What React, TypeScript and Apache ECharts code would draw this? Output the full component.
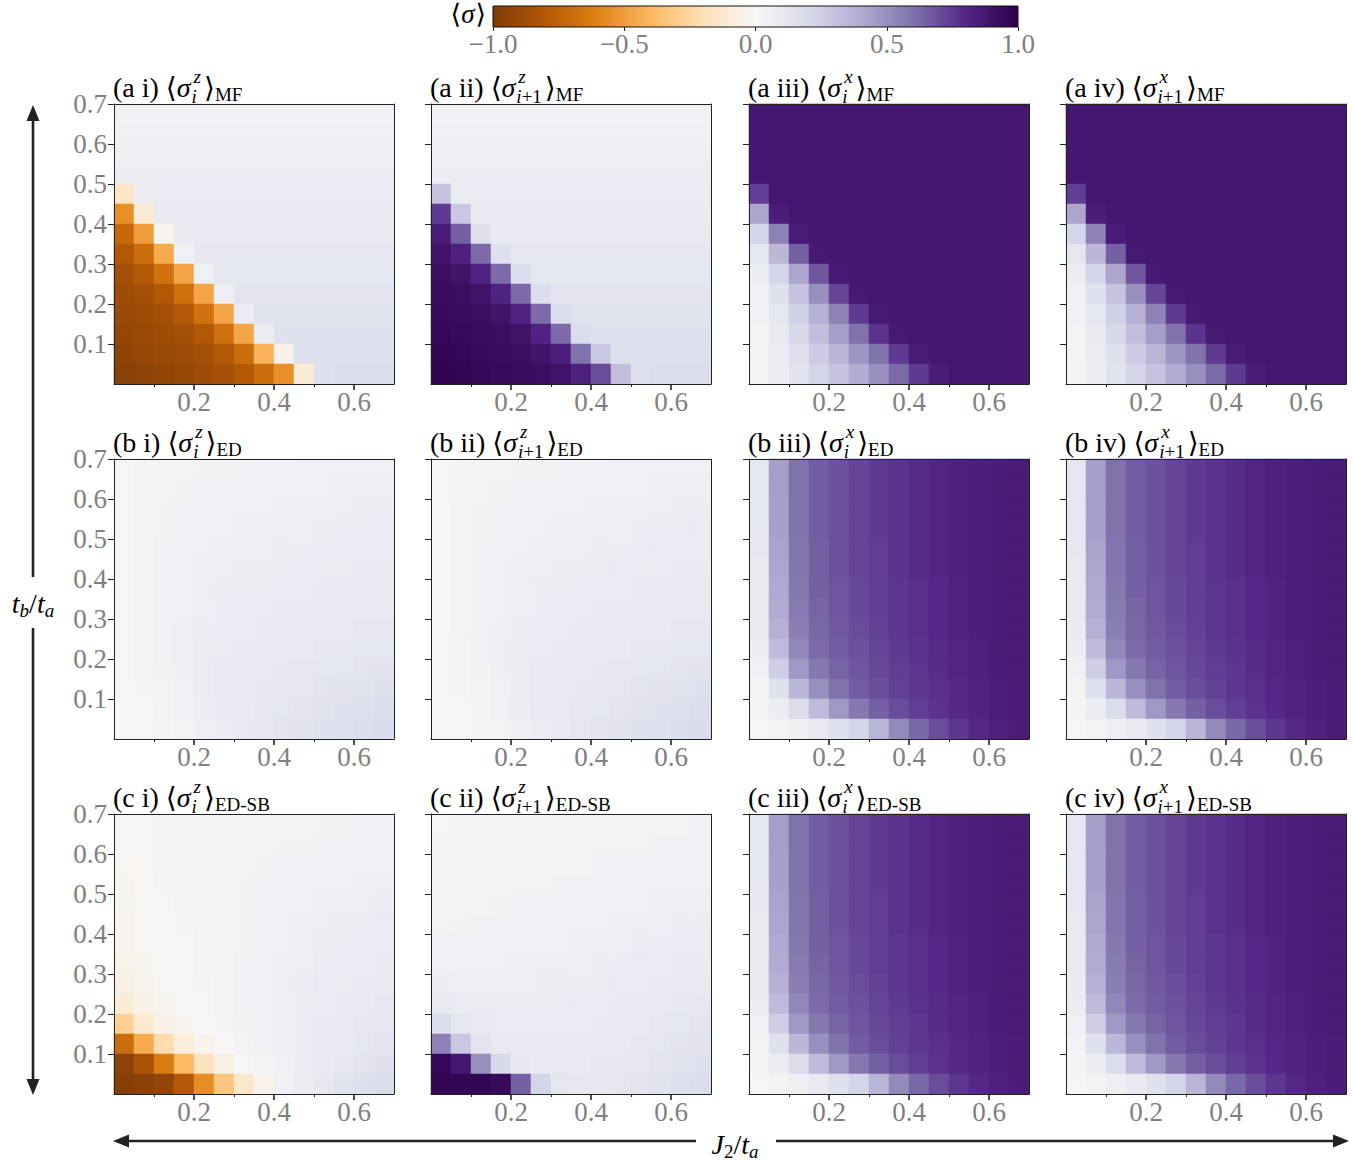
import React, { useEffect, useRef } from 'react';
import * as echarts from 'echarts';

// ---------- grid (cell centres) ----------
const J2_CELLS = [0.025, 0.075, 0.125, 0.175, 0.225, 0.275, 0.325, 0.375, 0.425, 0.475, 0.525, 0.575, 0.625, 0.675];
const TB_CELLS = [0.025, 0.075, 0.125, 0.175, 0.225, 0.275, 0.325, 0.375, 0.425, 0.475, 0.525, 0.575, 0.625, 0.675];

// ---------- ticks ----------
const X_TICK_LABELS = [0.2, 0.4, 0.6];
const X_MINOR_TICKS = [0.1, 0.3, 0.5];
const Y_TICK_LABELS = [0.1, 0.2, 0.3, 0.4, 0.5, 0.6, 0.7];
const CBAR_TICKS = [-1, -0.5, 0, 0.5, 1];

// PuOr colormap
const PUOR = ['#7f3b08', '#b35806', '#e08214', '#fdb863', '#fee0b6', '#f7f7f7', '#d8daeb', '#b2abd2', '#8073ac', '#542788', '#2d004b'];

// ---------- values (rows from tb=0.675 at top to tb=0.025 at bottom) ----------
const A_I = [
  [0.04, 0.04, 0.04, 0.04, 0.04, 0.04, 0.04, 0.04, 0.04, 0.04, 0.04, 0.04, 0.04, 0.04],
  [0.05, 0.05, 0.05, 0.05, 0.05, 0.05, 0.05, 0.05, 0.05, 0.05, 0.05, 0.05, 0.05, 0.05],
  [0.06, 0.06, 0.06, 0.06, 0.06, 0.06, 0.06, 0.06, 0.06, 0.06, 0.06, 0.06, 0.06, 0.06],
  [0.07, 0.07, 0.07, 0.07, 0.07, 0.07, 0.07, 0.07, 0.07, 0.07, 0.07, 0.07, 0.07, 0.07],
  [-0.15, 0.07, 0.08, 0.08, 0.08, 0.08, 0.08, 0.08, 0.08, 0.08, 0.08, 0.08, 0.08, 0.08],
  [-0.55, -0.1, 0.09, 0.09, 0.09, 0.09, 0.09, 0.09, 0.09, 0.09, 0.09, 0.09, 0.09, 0.09],
  [-0.72, -0.5, -0.03, 0.1, 0.1, 0.1, 0.1, 0.1, 0.1, 0.1, 0.1, 0.1, 0.1, 0.1],
  [-0.8, -0.7, -0.45, 0.05, 0.11, 0.11, 0.11, 0.11, 0.11, 0.11, 0.11, 0.11, 0.11, 0.11],
  [-0.86, -0.8, -0.68, -0.47, 0.05, 0.12, 0.12, 0.12, 0.12, 0.12, 0.12, 0.12, 0.12, 0.12],
  [-0.88, -0.86, -0.8, -0.68, -0.47, 0.06, 0.13, 0.13, 0.13, 0.13, 0.13, 0.13, 0.13, 0.13],
  [-0.9, -0.88, -0.86, -0.8, -0.68, -0.47, 0.07, 0.14, 0.14, 0.14, 0.14, 0.14, 0.14, 0.14],
  [-0.92, -0.9, -0.88, -0.86, -0.8, -0.68, -0.47, 0.08, 0.15, 0.15, 0.15, 0.15, 0.15, 0.15],
  [-0.94, -0.92, -0.9, -0.88, -0.86, -0.8, -0.7, -0.42, -0.05, 0.16, 0.16, 0.16, 0.16, 0.16],
  [-0.96, -0.95, -0.93, -0.91, -0.88, -0.85, -0.8, -0.7, -0.55, -0.1, 0.15, 0.17, 0.17, 0.17],
];

const A_II = [
  [0.04, 0.04, 0.04, 0.04, 0.04, 0.04, 0.04, 0.04, 0.04, 0.04, 0.04, 0.04, 0.04, 0.04],
  [0.05, 0.05, 0.05, 0.05, 0.05, 0.05, 0.05, 0.05, 0.05, 0.05, 0.05, 0.05, 0.05, 0.05],
  [0.06, 0.06, 0.06, 0.06, 0.06, 0.06, 0.06, 0.06, 0.06, 0.06, 0.06, 0.06, 0.06, 0.06],
  [0.07, 0.07, 0.07, 0.07, 0.07, 0.07, 0.07, 0.07, 0.07, 0.07, 0.07, 0.07, 0.07, 0.07],
  [0.3, 0.07, 0.08, 0.08, 0.08, 0.08, 0.08, 0.08, 0.08, 0.08, 0.08, 0.08, 0.08, 0.08],
  [0.75, 0.28, 0.09, 0.09, 0.09, 0.09, 0.09, 0.09, 0.09, 0.09, 0.09, 0.09, 0.09, 0.09],
  [0.85, 0.65, 0.15, 0.1, 0.1, 0.1, 0.1, 0.1, 0.1, 0.1, 0.1, 0.1, 0.1, 0.1],
  [0.9, 0.83, 0.62, 0.16, 0.11, 0.11, 0.11, 0.11, 0.11, 0.11, 0.11, 0.11, 0.11, 0.11],
  [0.93, 0.9, 0.82, 0.62, 0.17, 0.12, 0.12, 0.12, 0.12, 0.12, 0.12, 0.12, 0.12, 0.12],
  [0.94, 0.93, 0.9, 0.82, 0.62, 0.17, 0.13, 0.13, 0.13, 0.13, 0.13, 0.13, 0.13, 0.13],
  [0.95, 0.94, 0.93, 0.9, 0.82, 0.62, 0.18, 0.14, 0.14, 0.14, 0.14, 0.14, 0.14, 0.14],
  [0.96, 0.95, 0.94, 0.93, 0.9, 0.82, 0.62, 0.18, 0.15, 0.15, 0.15, 0.15, 0.15, 0.15],
  [0.97, 0.96, 0.95, 0.94, 0.93, 0.9, 0.84, 0.6, 0.28, 0.16, 0.16, 0.16, 0.16, 0.16],
  [0.98, 0.97, 0.96, 0.95, 0.94, 0.93, 0.9, 0.83, 0.7, 0.32, 0.16, 0.17, 0.17, 0.17],
];

const A_III = [
  [0.88, 0.88, 0.88, 0.88, 0.88, 0.88, 0.88, 0.88, 0.88, 0.88, 0.88, 0.88, 0.88, 0.88],
  [0.88, 0.88, 0.88, 0.88, 0.88, 0.88, 0.88, 0.88, 0.88, 0.88, 0.88, 0.88, 0.88, 0.88],
  [0.88, 0.88, 0.88, 0.88, 0.88, 0.88, 0.88, 0.88, 0.88, 0.88, 0.88, 0.88, 0.88, 0.88],
  [0.88, 0.88, 0.88, 0.88, 0.88, 0.88, 0.88, 0.88, 0.88, 0.88, 0.88, 0.88, 0.88, 0.88],
  [0.74, 0.88, 0.88, 0.88, 0.88, 0.88, 0.88, 0.88, 0.88, 0.88, 0.88, 0.88, 0.88, 0.88],
  [0.42, 0.85, 0.88, 0.88, 0.88, 0.88, 0.88, 0.88, 0.88, 0.88, 0.88, 0.88, 0.88, 0.88],
  [0.22, 0.55, 0.86, 0.88, 0.88, 0.88, 0.88, 0.88, 0.88, 0.88, 0.88, 0.88, 0.88, 0.88],
  [0.12, 0.35, 0.65, 0.87, 0.88, 0.88, 0.88, 0.88, 0.88, 0.88, 0.88, 0.88, 0.88, 0.88],
  [0.07, 0.22, 0.42, 0.68, 0.87, 0.88, 0.88, 0.88, 0.88, 0.88, 0.88, 0.88, 0.88, 0.88],
  [0.05, 0.15, 0.3, 0.5, 0.72, 0.87, 0.88, 0.88, 0.88, 0.88, 0.88, 0.88, 0.88, 0.88],
  [0.04, 0.12, 0.24, 0.38, 0.55, 0.75, 0.87, 0.88, 0.88, 0.88, 0.88, 0.88, 0.88, 0.88],
  [0.03, 0.1, 0.2, 0.32, 0.45, 0.6, 0.77, 0.87, 0.88, 0.88, 0.88, 0.88, 0.88, 0.88],
  [0.03, 0.08, 0.16, 0.26, 0.36, 0.48, 0.6, 0.75, 0.86, 0.88, 0.88, 0.88, 0.88, 0.88],
  [0.02, 0.07, 0.14, 0.22, 0.3, 0.4, 0.5, 0.62, 0.75, 0.85, 0.88, 0.88, 0.88, 0.88],
];
const A_IV = A_III;

const B_I = [
  [0.01, 0.02, 0.03, 0.03, 0.035, 0.035, 0.04, 0.04, 0.04, 0.045, 0.045, 0.05, 0.05, 0.05],
  [0.01, 0.02, 0.03, 0.035, 0.04, 0.04, 0.045, 0.045, 0.05, 0.05, 0.05, 0.055, 0.055, 0.06],
  [0.01, 0.025, 0.035, 0.04, 0.045, 0.045, 0.05, 0.05, 0.055, 0.055, 0.06, 0.06, 0.065, 0.065],
  [0.01, 0.025, 0.035, 0.045, 0.05, 0.05, 0.055, 0.055, 0.06, 0.06, 0.065, 0.07, 0.07, 0.075],
  [0.01, 0.025, 0.04, 0.045, 0.05, 0.055, 0.06, 0.06, 0.065, 0.07, 0.07, 0.075, 0.08, 0.08],
  [0.01, 0.025, 0.04, 0.05, 0.055, 0.06, 0.065, 0.065, 0.07, 0.075, 0.08, 0.08, 0.085, 0.09],
  [0.01, 0.025, 0.04, 0.05, 0.06, 0.065, 0.07, 0.07, 0.075, 0.08, 0.085, 0.09, 0.09, 0.095],
  [0.01, 0.025, 0.04, 0.05, 0.06, 0.07, 0.075, 0.08, 0.085, 0.09, 0.09, 0.095, 0.1, 0.1],
  [0.01, 0.025, 0.04, 0.055, 0.065, 0.075, 0.08, 0.085, 0.09, 0.095, 0.1, 0.1, 0.11, 0.11],
  [0.01, 0.02, 0.04, 0.055, 0.07, 0.08, 0.085, 0.09, 0.1, 0.1, 0.11, 0.11, 0.12, 0.12],
  [0.005, 0.02, 0.035, 0.055, 0.07, 0.085, 0.09, 0.1, 0.105, 0.11, 0.12, 0.12, 0.13, 0.135],
  [0.005, 0.015, 0.03, 0.05, 0.07, 0.085, 0.095, 0.105, 0.11, 0.12, 0.13, 0.135, 0.14, 0.15],
  [0.0, 0.01, 0.02, 0.04, 0.065, 0.085, 0.1, 0.11, 0.12, 0.13, 0.14, 0.15, 0.16, 0.17],
  [0.0, 0.005, 0.015, 0.03, 0.055, 0.08, 0.1, 0.115, 0.13, 0.14, 0.15, 0.16, 0.175, 0.19],
];
const B_II = B_I;

const B_III = [
  [0.12, 0.45, 0.6, 0.66, 0.69, 0.72, 0.75, 0.77, 0.79, 0.81, 0.83, 0.84, 0.85, 0.86],
  [0.12, 0.45, 0.6, 0.66, 0.69, 0.72, 0.75, 0.77, 0.79, 0.81, 0.83, 0.84, 0.85, 0.86],
  [0.12, 0.44, 0.6, 0.66, 0.69, 0.72, 0.75, 0.77, 0.79, 0.81, 0.83, 0.84, 0.85, 0.86],
  [0.11, 0.44, 0.6, 0.66, 0.69, 0.72, 0.75, 0.77, 0.79, 0.81, 0.83, 0.84, 0.85, 0.86],
  [0.11, 0.43, 0.59, 0.65, 0.69, 0.72, 0.74, 0.77, 0.79, 0.81, 0.83, 0.84, 0.85, 0.86],
  [0.1, 0.42, 0.59, 0.65, 0.69, 0.72, 0.74, 0.77, 0.79, 0.81, 0.83, 0.84, 0.85, 0.86],
  [0.1, 0.41, 0.58, 0.65, 0.68, 0.71, 0.74, 0.76, 0.78, 0.8, 0.82, 0.84, 0.85, 0.86],
  [0.1, 0.4, 0.57, 0.64, 0.68, 0.71, 0.74, 0.76, 0.78, 0.8, 0.82, 0.84, 0.85, 0.86],
  [0.09, 0.38, 0.56, 0.63, 0.67, 0.7, 0.73, 0.76, 0.78, 0.8, 0.82, 0.84, 0.85, 0.86],
  [0.07, 0.33, 0.53, 0.62, 0.66, 0.69, 0.72, 0.75, 0.77, 0.79, 0.81, 0.83, 0.85, 0.86],
  [0.05, 0.25, 0.47, 0.58, 0.64, 0.68, 0.71, 0.74, 0.76, 0.79, 0.81, 0.83, 0.85, 0.86],
  [0.03, 0.15, 0.35, 0.5, 0.6, 0.66, 0.7, 0.73, 0.76, 0.78, 0.8, 0.82, 0.84, 0.85],
  [0.02, 0.07, 0.18, 0.33, 0.47, 0.58, 0.65, 0.7, 0.74, 0.77, 0.8, 0.82, 0.84, 0.85],
  [0.01, 0.03, 0.06, 0.1, 0.15, 0.22, 0.36, 0.52, 0.63, 0.7, 0.76, 0.8, 0.83, 0.85],
];
const B_IV = B_III;

const C_I = [
  [-0.01, 0.01, 0.015, 0.02, 0.02, 0.025, 0.025, 0.03, 0.03, 0.03, 0.035, 0.035, 0.04, 0.04],
  [-0.01, 0.01, 0.015, 0.02, 0.025, 0.025, 0.03, 0.03, 0.035, 0.035, 0.04, 0.04, 0.045, 0.045],
  [-0.015, 0.005, 0.015, 0.02, 0.025, 0.03, 0.03, 0.035, 0.04, 0.04, 0.045, 0.045, 0.05, 0.05],
  [-0.02, 0.0, 0.015, 0.02, 0.025, 0.03, 0.035, 0.04, 0.04, 0.045, 0.05, 0.05, 0.055, 0.06],
  [-0.025, -0.005, 0.01, 0.02, 0.025, 0.03, 0.035, 0.04, 0.045, 0.05, 0.055, 0.06, 0.06, 0.065],
  [-0.03, -0.01, 0.005, 0.015, 0.025, 0.03, 0.035, 0.04, 0.05, 0.055, 0.06, 0.065, 0.07, 0.075],
  [-0.035, -0.015, 0.0, 0.01, 0.02, 0.03, 0.035, 0.045, 0.05, 0.06, 0.065, 0.07, 0.075, 0.08],
  [-0.045, -0.02, -0.005, 0.01, 0.02, 0.03, 0.04, 0.045, 0.055, 0.06, 0.07, 0.075, 0.08, 0.09],
  [-0.06, -0.03, -0.01, 0.005, 0.015, 0.03, 0.04, 0.05, 0.06, 0.065, 0.075, 0.08, 0.09, 0.1],
  [-0.1, -0.05, -0.025, -0.005, 0.01, 0.025, 0.04, 0.05, 0.06, 0.07, 0.08, 0.09, 0.1, 0.11],
  [-0.28, -0.12, -0.05, -0.02, 0.0, 0.02, 0.035, 0.05, 0.06, 0.07, 0.085, 0.095, 0.11, 0.12],
  [-0.7, -0.45, -0.22, -0.09, -0.03, 0.0, 0.025, 0.045, 0.06, 0.075, 0.09, 0.1, 0.12, 0.13],
  [-0.95, -0.84, -0.63, -0.4, -0.18, -0.07, -0.01, 0.03, 0.05, 0.07, 0.09, 0.11, 0.13, 0.15],
  [-0.97, -0.96, -0.93, -0.8, -0.56, -0.33, -0.14, -0.04, 0.04, 0.08, 0.11, 0.14, 0.16, 0.18],
];

const C_II = [
  [0.01, 0.02, 0.02, 0.02, 0.02, 0.02, 0.03, 0.03, 0.03, 0.03, 0.03, 0.03, 0.03, 0.04],
  [0.02, 0.02, 0.02, 0.02, 0.03, 0.03, 0.03, 0.03, 0.03, 0.03, 0.03, 0.04, 0.04, 0.04],
  [0.02, 0.02, 0.03, 0.03, 0.03, 0.03, 0.03, 0.03, 0.04, 0.04, 0.04, 0.04, 0.04, 0.045],
  [0.02, 0.03, 0.03, 0.03, 0.03, 0.03, 0.04, 0.04, 0.04, 0.04, 0.045, 0.045, 0.05, 0.05],
  [0.03, 0.03, 0.03, 0.035, 0.04, 0.04, 0.04, 0.045, 0.045, 0.05, 0.05, 0.055, 0.055, 0.06],
  [0.03, 0.035, 0.04, 0.04, 0.04, 0.045, 0.045, 0.05, 0.05, 0.055, 0.06, 0.06, 0.065, 0.07],
  [0.04, 0.04, 0.04, 0.045, 0.05, 0.05, 0.05, 0.055, 0.06, 0.06, 0.065, 0.07, 0.075, 0.08],
  [0.05, 0.05, 0.05, 0.05, 0.055, 0.055, 0.06, 0.06, 0.065, 0.07, 0.075, 0.08, 0.085, 0.09],
  [0.07, 0.06, 0.06, 0.06, 0.06, 0.065, 0.065, 0.07, 0.07, 0.075, 0.08, 0.09, 0.095, 0.1],
  [0.1, 0.08, 0.07, 0.07, 0.07, 0.07, 0.07, 0.075, 0.08, 0.085, 0.09, 0.1, 0.105, 0.11],
  [0.18, 0.12, 0.09, 0.08, 0.08, 0.08, 0.08, 0.08, 0.09, 0.095, 0.1, 0.11, 0.12, 0.13],
  [0.55, 0.28, 0.13, 0.1, 0.09, 0.09, 0.09, 0.09, 0.1, 0.1, 0.11, 0.12, 0.13, 0.14],
  [0.96, 0.88, 0.5, 0.2, 0.11, 0.1, 0.1, 0.1, 0.11, 0.11, 0.12, 0.13, 0.14, 0.15],
  [0.97, 0.97, 0.97, 0.95, 0.65, 0.22, 0.12, 0.11, 0.11, 0.12, 0.13, 0.14, 0.16, 0.17],
];
const C_III = B_III;
const C_IV = B_III;

// ---------- panel labels ----------
const PANEL_ROWS = ['a', 'b', 'c'];
const PANEL_COLS = ['i', 'ii', 'iii', 'iv'];
const METHODS = ['MF', 'ED', 'ED-SB'];
const COMPONENTS = ['z', 'z', 'x', 'x'];
const SITES = [['i', ''], ['i', '+1'], ['i', ''], ['i', '+1']];
const FIELDS = [
  [A_I, A_II, A_III, A_IV],
  [B_I, B_II, B_III, B_IV],
  [C_I, C_II, C_III, C_IV],
];

// ---------- layout ----------
const COL_LEFT = [114, 431, 749, 1066];
const ROW_TOP = [104, 459, 814];
const SIZE = 280;
const CBAR = { left: 493, top: 6, width: 525, height: 21 };

const SERIF = '"Liberation Serif", "DejaVu Serif", serif';
const GRAY = '#808080';
const INK = '#222222';
const BIG = 28;
const SMALL = 19;
const TICK_FS = 27;

let measureCtx: CanvasRenderingContext2D | null = null;
function fontOf(p: any) {
  return `${p.it ? 'italic ' : ''}${p.size}px ${SERIF}`;
}
function measure(p: any) {
  if (!measureCtx) measureCtx = document.createElement('canvas').getContext('2d');
  measureCtx!.font = fontOf(p);
  return measureCtx!.measureText(p.t).width;
}
function txt(p: any, x: number, y: number) {
  return {
    type: 'text',
    x,
    y,
    silent: true,
    style: {
      text: p.t,
      fontSize: p.size,
      fontFamily: SERIF,
      fontStyle: p.it ? 'italic' : 'normal',
      fill: p.color || '#000',
      textAlign: 'left',
      textVerticalAlign: 'middle',
      align: 'left',
      verticalAlign: 'middle',
    },
  };
}
function lineWidthOf(pieces: any[]) {
  return pieces.reduce((a, p) => a + (p.dx || 0) + measure(p), 0);
}
function mathText(segs: any[], x0: number, yc: number, anchor: string) {
  const widths = segs.map((s) =>
    s.stack
      ? Math.max(...s.stack.map((line: any[]) => lineWidthOf(line))) + (s.padR || 0)
      : measure(s) + (s.padR || 0)
  );
  const total = widths.reduce((a, b) => a + b, 0);
  let x = anchor === 'center' ? x0 - total / 2 : anchor === 'right' ? x0 - total : x0;
  const out: any[] = [];
  segs.forEach((s, i) => {
    if (s.stack) {
      s.stack.forEach((line: any[]) => {
        let lx = x;
        line.forEach((p: any) => {
          lx += p.dx || 0;
          out.push(txt(p, lx, yc + (p.dy || 0)));
          lx += measure(p);
        });
      });
    } else {
      out.push(txt(s, x, yc + (s.dy || 0)));
    }
    x += widths[i];
  });
  return out;
}

function toCells(rows: number[][]) {
  const out: number[][] = [];
  rows.forEach((row, r) => {
    const yi = TB_CELLS.length - 1 - r;
    row.forEach((v, xi) => out.push([xi, yi, v]));
  });
  return out;
}

function fmtCbar(v: number) {
  return v < 0 ? '\u2212' + Math.abs(v).toFixed(1) : Math.abs(v).toFixed(1);
}

function buildOption() {
  const spine = { color: INK, width: 1 };
  const grids: any[] = [];
  const xAxes: any[] = [];
  const yAxes: any[] = [];
  const series: any[] = [];
  const graphics: any[] = [];

  PANEL_ROWS.forEach((rowName, r) => {
    PANEL_COLS.forEach((colName, c) => {
      const g = grids.length;
      grids.push({ left: COL_LEFT[c], top: ROW_TOP[r], width: SIZE, height: SIZE, containLabel: false });
      const xCat = xAxes.length;
      xAxes.push({
        type: 'category', gridIndex: g, data: J2_CELLS.map(String), position: 'top', z: 10,
        axisLine: { show: true, onZero: false, lineStyle: spine },
        axisTick: { show: false }, axisLabel: { show: false }, splitLine: { show: false },
      });
      xAxes.push({
        type: 'value', gridIndex: g, position: 'bottom', min: 0, max: 0.7, interval: 0.1, z: 10,
        axisLine: { show: true, onZero: false, lineStyle: spine },
        axisTick: { show: true, customValues: X_TICK_LABELS, length: 6, lineStyle: { color: INK, width: 1.6 } },
        axisLabel: {
          show: true, customValues: X_TICK_LABELS, formatter: (v: number) => v.toFixed(1),
          color: GRAY, fontSize: TICK_FS, fontFamily: SERIF, margin: 4,
        },
        splitLine: { show: false },
      });
      xAxes.push({
        type: 'value', gridIndex: g, position: 'bottom', min: 0, max: 0.7, interval: 0.1, z: 10,
        axisLine: { show: false, onZero: false },
        axisTick: { show: true, customValues: X_MINOR_TICKS, length: 3, lineStyle: { color: INK, width: 1 } },
        axisLabel: { show: false }, splitLine: { show: false },
      });
      const yCat = yAxes.length;
      yAxes.push({
        type: 'category', gridIndex: g, data: TB_CELLS.map(String), position: 'right', z: 10,
        axisLine: { show: true, onZero: false, lineStyle: spine },
        axisTick: { show: false }, axisLabel: { show: false }, splitLine: { show: false },
      });
      yAxes.push({
        type: 'value', gridIndex: g, position: 'left', min: 0, max: 0.7, interval: 0.1, z: 10,
        axisLine: { show: true, onZero: false, lineStyle: spine },
        axisTick: { show: true, customValues: Y_TICK_LABELS, length: 6, lineStyle: { color: INK, width: 1 } },
        axisLabel: {
          show: c === 0, customValues: Y_TICK_LABELS, formatter: (v: number) => v.toFixed(1),
          color: GRAY, fontSize: TICK_FS, fontFamily: SERIF, margin: 7,
        },
        splitLine: { show: false },
      });
      series.push({
        type: 'heatmap', name: `${rowName} ${colName}`, xAxisIndex: xCat, yAxisIndex: yCat,
        data: toCells(FIELDS[r][c]), emphasis: { disabled: true }, itemStyle: { borderWidth: 0 },
      });

      // panel title
      const subLine: any[] = [{ t: SITES[c][0], size: SMALL, it: true, dy: 9 }];
      if (SITES[c][1]) subLine.push({ t: SITES[c][1], size: SMALL, dy: 9 });
      graphics.push(
        ...mathText(
          [
            { t: `(${rowName} ${colName}) \u27E8`, size: BIG },
            { t: '\u03C3', size: BIG, it: true, padR: 1 },
            {
              stack: [[{ t: COMPONENTS[c], size: SMALL, it: true, dy: -11, dx: 2 }], subLine],
              padR: 3,
            },
            { t: '\u27E9', size: BIG },
            { t: METHODS[r], size: SMALL, dy: 7 },
          ],
          COL_LEFT[c] - 1,
          ROW_TOP[r] - 17,
          'left'
        )
      );
    });
  });

  // colorbar axis
  const cg = grids.length;
  grids.push({ left: CBAR.left, top: CBAR.top, width: CBAR.width, height: CBAR.height, containLabel: false });
  xAxes.push({
    type: 'value', gridIndex: cg, position: 'bottom', min: -1, max: 1, interval: 0.5, z: 10,
    axisLine: { show: false, onZero: false },
    axisTick: { show: true, customValues: CBAR_TICKS, length: 4, lineStyle: { color: INK, width: 1 } },
    axisLabel: {
      show: true, customValues: CBAR_TICKS, formatter: fmtCbar, color: GRAY, fontSize: TICK_FS, fontFamily: SERIF, margin: 3,
    },
    splitLine: { show: false },
  });
  yAxes.push({ type: 'value', gridIndex: cg, show: false, min: 0, max: 1 });

  graphics.push({
    type: 'rect', silent: true, z: 1,
    shape: { x: CBAR.left, y: CBAR.top, width: CBAR.width, height: CBAR.height },
    style: {
      fill: new echarts.graphic.LinearGradient(
        0, 0, 1, 0,
        PUOR.map((color, i) => ({ offset: i / (PUOR.length - 1), color }))
      ),
      stroke: '#111', lineWidth: 1,
    },
  });
  graphics.push(
    ...mathText(
      [
        { t: '\u27E8', size: 27 },
        { t: '\u03C3', size: 27, it: true, padR: 1 },
        { t: '\u27E9', size: 27 },
      ],
      CBAR.left - 7,
      CBAR.top + 8,
      'right'
    )
  );

  // axis titles with arrows
  graphics.push(
    ...mathText(
      [
        { t: 't', size: BIG, it: true },
        { t: 'b', size: SMALL, it: true, dy: 7 },
        { t: '/', size: BIG },
        { t: 't', size: BIG, it: true },
        { t: 'a', size: SMALL, it: true, dy: 7 },
      ],
      33, 603, 'center'
    )
  );
  graphics.push(
    ...mathText(
      [
        { t: 'J', size: BIG, it: true },
        { t: '2', size: SMALL, dy: 7 },
        { t: '/', size: BIG },
        { t: 't', size: BIG, it: true },
        { t: 'a', size: SMALL, it: true, dy: 7 },
      ],
      735, 1144, 'center'
    )
  );
  const arrowStyle = { stroke: INK, lineWidth: 2.6 };
  graphics.push(
    { type: 'line', silent: true, shape: { x1: 33, y1: 118, x2: 33, y2: 577 }, style: arrowStyle },
    { type: 'line', silent: true, shape: { x1: 33, y1: 628, x2: 33, y2: 1082 }, style: arrowStyle },
    { type: 'polygon', silent: true, shape: { points: [[33, 105], [26.5, 121], [39.5, 121]] }, style: { fill: INK } },
    { type: 'polygon', silent: true, shape: { points: [[33, 1095], [26.5, 1079], [39.5, 1079]] }, style: { fill: INK } },
    { type: 'line', silent: true, shape: { x1: 126, y1: 1141, x2: 696, y2: 1141 }, style: arrowStyle },
    { type: 'line', silent: true, shape: { x1: 776, y1: 1141, x2: 1336, y2: 1141 }, style: arrowStyle },
    { type: 'polygon', silent: true, shape: { points: [[113, 1141], [129, 1134.5], [129, 1147.5]] }, style: { fill: INK } },
    { type: 'polygon', silent: true, shape: { points: [[1349, 1141], [1333, 1134.5], [1333, 1147.5]] }, style: { fill: INK } }
  );

  return {
    animation: false,
    backgroundColor: '#ffffff',
    textStyle: { fontFamily: SERIF },
    grid: grids,
    xAxis: xAxes,
    yAxis: yAxes,
    visualMap: {
      type: 'continuous', min: -1, max: 1, show: false, calculable: false,
      seriesIndex: series.map((_, i) => i),
      inRange: { color: PUOR },
    },
    series,
    graphic: { elements: graphics },
  };
}

export default function App() {
  const ref = useRef<HTMLDivElement>(null);
  useEffect(() => {
    document.body.style.margin = '0';
    const chart = echarts.init(ref.current!, null, { renderer: 'svg' });
    chart.setOption(buildOption() as any);
    return () => chart.dispose();
  }, []);
  return <div ref={ref} style={{ width: 1353, height: 1161, background: '#fff' }} />;
}
